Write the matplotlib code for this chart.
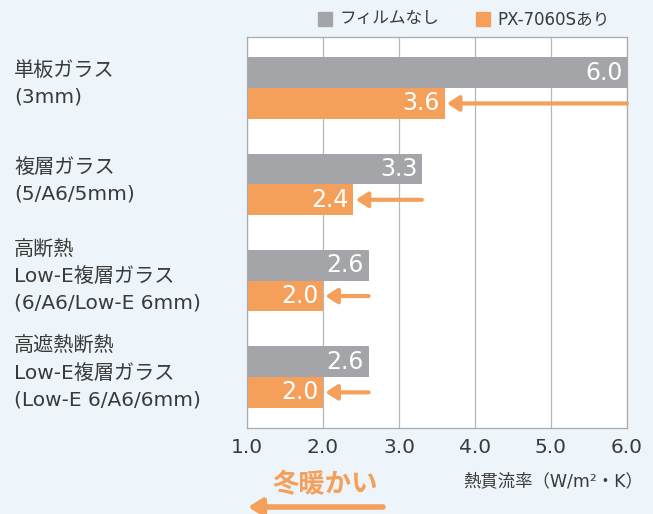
import matplotlib.pyplot as plt
import matplotlib.transforms as mtransforms
import numpy as np

plt.rcParams['font.family'] = ['Noto Sans CJK JP', 'DejaVu Sans']

# data
categories = ['単板ガラス\n(3mm)',
              '複層ガラス\n(5/A6/5mm)',
              '高断熱\nLow-E複層ガラス\n(6/A6/Low-E 6mm)',
              '高遮熱断熱\nLow-E複層ガラス\n(Low-E 6/A6/6mm)']
without_film = [6.0, 3.3, 2.6, 2.6]
with_film = [3.6, 2.4, 2.0, 2.0]
series_names = ['フィルムなし', 'PX-7060Sあり']
xticks = [1.0, 2.0, 3.0, 4.0, 5.0, 6.0]

gray = '#a3a5a8'
orange = '#f5a05a'
text_col = '#3a3a3a'
bg = '#eef5fa'
latin_first = ['DejaVu Sans', 'Noto Sans CJK JP']

fig = plt.figure(figsize=(6.53, 5.14), dpi=100, facecolor=bg)
ax = fig.add_axes([247 / 653, 1 - 428 / 514, 380 / 653, 391 / 514])
ax.set_facecolor('white')

y = np.arange(len(categories))
h = 0.32
base = 1.0
ax.barh(y - h / 2, np.array(without_film) - base, left=base, height=h, color=gray)
ax.barh(y + h / 2, np.array(with_film) - base, left=base, height=h, color=orange)

label_tr = mtransforms.blended_transform_factory(fig.transFigure, ax.transData)
for i in range(len(categories)):
    ax.text(without_film[i] - 0.06, y[i] - h / 2, f'{without_film[i]:.1f}', color='white',
            fontsize=17, ha='right', va='center', family='DejaVu Sans')
    ax.text(with_film[i] - 0.06, y[i] + h / 2, f'{with_film[i]:.1f}', color='white',
            fontsize=17, ha='right', va='center', family='DejaVu Sans')
    ax.annotate('', xy=(with_film[i] + 0.03, y[i] + h / 2), xytext=(without_film[i], y[i] + h / 2),
                arrowprops=dict(arrowstyle='-|>,head_length=0.7,head_width=0.45', color=orange,
                                lw=3, shrinkA=0, shrinkB=0))
    ax.text(14 / 653, y[i] - 0.04, categories[i], transform=label_tr,
            ha='left', va='center', fontsize=14.5, color=text_col, linespacing=1.5,
            family=latin_first)

ax.set_xlim(1.0, 6.0)
ax.set_ylim(3.53, -0.53)
ax.set_xticks(xticks)
ax.set_xticklabels([f'{t:.1f}' for t in xticks], fontsize=14.5, color=text_col, family='DejaVu Sans')
ax.set_yticks([])
ax.tick_params(axis='x', length=0, pad=7)
ax.grid(axis='x', color='#b5b8bb', lw=0.9)
ax.set_axisbelow(True)
for s in ax.spines.values():
    s.set_color('#a8abae')
    s.set_linewidth(0.9)

# legend
fig.patches.append(plt.Rectangle((318 / 653, 1 - 26 / 514), 14 / 653, 14 / 514,
                                 transform=fig.transFigure, color=gray))
fig.text(340 / 653, 1 - 19 / 514, series_names[0], fontsize=12, color=text_col, va='center')
fig.patches.append(plt.Rectangle((476 / 653, 1 - 26 / 514), 14 / 653, 14 / 514,
                                 transform=fig.transFigure, color=orange))
fig.text(497 / 653, 1 - 19 / 514, series_names[1], fontsize=12, color=text_col, va='center',
         family=latin_first)

# axis title
fig.text(643 / 653, 1 - 481 / 514, '熱貫流率（W/m²・K）', fontsize=12.5, color=text_col,
         ha='right', va='center', family=latin_first)

# bottom note
fig.text(272 / 653, 1 - 485 / 514, '冬暖かい', fontsize=19, color=orange, weight='bold',
         ha='left', va='center')
ax.annotate('', xy=(248, 7), xytext=(383, 7), xycoords='figure pixels', textcoords='figure pixels',
            arrowprops=dict(arrowstyle='-|>,head_length=0.8,head_width=0.5', color=orange,
                            lw=4, shrinkA=0, shrinkB=0), annotation_clip=False)

fig.savefig('out.png', dpi=100, facecolor=bg)
